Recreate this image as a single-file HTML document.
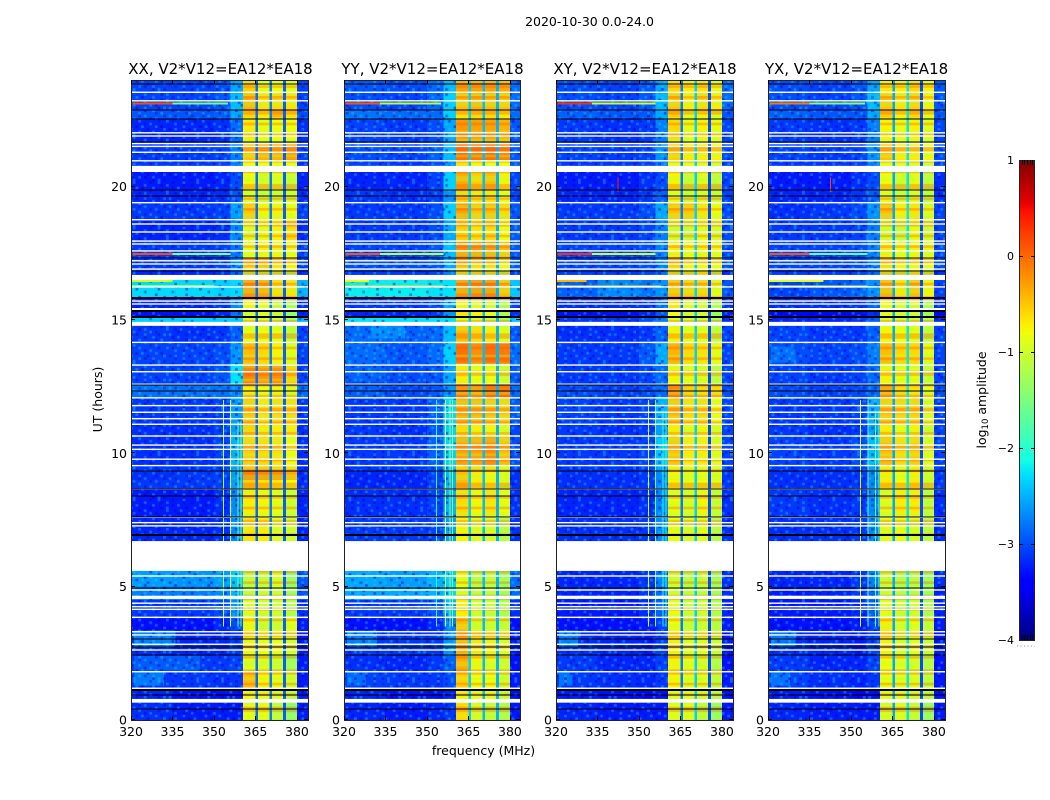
<!DOCTYPE html>
<html lang="en">
<head>
<meta charset="utf-8">
<title>2020-10-30 0.0-24.0</title>
<style>
html,body{margin:0;padding:0;background:#fff;width:1050px;height:800px;overflow:hidden}
svg{display:block}
text{font-family:"DejaVu Sans","Liberation Sans",sans-serif;fill:#000}
</style>
</head>
<body>
<svg id="figure" xmlns="http://www.w3.org/2000/svg" width="1050" height="800" viewBox="0 0 1050 800">
  <defs id="defs"></defs>
  <text x="589.5" y="26" font-size="12.5" text-anchor="middle">2020-10-30 0.0-24.0</text>
  <g id="panels"></g>
  <text x="483.5" y="755" font-size="12.5" text-anchor="middle">frequency (MHz)</text>
  <text transform="translate(102,399.5) rotate(-90)" font-size="12.5" text-anchor="middle">UT (hours)</text>
  <g id="colorbar"></g>
  <text transform="translate(986,400) rotate(-90)" font-size="12.5" text-anchor="middle">log<tspan font-size="8.5" dy="2">10</tspan><tspan dy="-2"> amplitude</tspan></text>
</svg>
<script>
// ---- chart data (hours, MHz, log10 amplitude) ----
const panelTitles = ["XX, V2*V12=EA12*EA18","YY, V2*V12=EA12*EA18","XY, V2*V12=EA12*EA18","YX, V2*V12=EA12*EA18"];
const panelNames = ["xx","yy","xy","yx"];
const xTicks = [320,335,350,365,380];
const yTicks = [0,5,10,15,20];
const cbTicks = [1,0,-1,-2,-3,-4];
const cbMinorTicks = [-3.95,-3.9,-3.85,-3.8,-3.75];
const cbMinorTicksTop = [0.95,0.9,0.85,0.8,0.75];
const rowEdges = [24,23.5,22.9,22.55,21.7,21,20.55,19.9,19.4,18.75,17.95,17.3,16.85,16.5,15.8,15.35,15.15,14.8,14.2,13.35,12.6,12.1,11.1,10.65,9.55,9.35,9,8.7,7.6,5.6,5,4.5,3.85,3.35,2.45,1.8,1.2,0.75,0];
const freqBandStarts = [320,335,350,356,360.5,366,371,376,380];
const freqBandEnds = [335,350,356,360.5,365,370,375,380,384];
const notchStarts = [365,370,375];
const xxLevels = [
[-3.05,-3.05,-3,-2.55,-.55,-.85,-.8,-.85,-3.05],
[-3.05,-3.05,-2.95,-2.45,-.4,-.65,-.6,-.65,-3.05],
[-2.95,-2.95,-2.9,-2.55,-.6,-.7,-.45,-.65,-3],
[-3.2,-3.2,-3.15,-2.85,-.7,-.85,-.8,-.8,-3.15],
[-3.1,-3.1,-3.05,-2.75,-.5,-.4,-.4,-.3,-3.05],
[-3.1,-3.1,-3.05,-2.75,-.8,-.8,-.8,-.85,-3.15],
[-3.25,-3.25,-3.2,-3,-.8,-.95,-.9,-1.05,-3.2],
[-3.2,-3.2,-3.15,-2.95,-.9,-1.05,-1,-1,-3.15],
[-3.1,-3.1,-3.05,-2.6,-.5,-.75,-.75,-.8,-3.05],
[-3.2,-3.2,-3.15,-2.7,-.9,-.85,-.75,-.6,-3.15],
[-3.1,-3.1,-3.05,-2.8,-.85,-.75,-.75,-.8,-3.05],
[-3.1,-3.1,-3.05,-2.7,-.45,-.5,-.65,-.7,-3.05],
[-3.2,-3.2,-3.15,-2.9,-1.15,-1.1,-1.1,-1.2,-3.15],
[-2.3,-2.3,-2.35,-2.3,-.25,-.3,-.6,-.65,-2.5],
[-3.2,-3.2,-3.1,-2.7,-.75,-.85,-1.05,-1.25,-3.15],
[-3.3,-3.3,-3.2,-2.8,-1,-.95,-1.05,-1.35,-3.2],
[-2.35,-2.35,-2.35,-2.35,-.95,-.9,-1,-1.3,-2.5],
[-3.1,-3.15,-3.1,-2.9,-.85,-.8,-.85,-1.1,-3.05],
[-3.05,-3.05,-3,-2.65,-.45,-.6,-.75,-.9,-3.05],
[-3.05,-3.05,-2.95,-2.25,-.15,-.25,-.2,-.55,-3.05],
[-2.9,-2.9,-2.9,-2.65,-.7,-.8,-.75,-.9,-2.85],
[-3.1,-3.1,-3.05,-2.6,-.5,-.65,-.6,-.6,-3.1],
[-3.15,-3.15,-3.05,-2.6,-.55,-.7,-.7,-.7,-3.15],
[-3.15,-3.15,-3.05,-2.5,-.55,-.6,-.65,-.8,-3.15],
[-3.1,-3.1,-3.05,-2.6,-.4,-.45,-.55,-.6,-3.15],
[-3.15,-3.1,-3.05,-2.6,-.1,-.15,-.2,-.35,-3.15],
[-3.1,-3.1,-3.05,-2.6,-.55,-.65,-.7,-.8,-3.15],
[-3.25,-3.25,-3.15,-2.7,-.7,-.75,-.85,-1,-3.2],
[-3.2,-3.2,-3.15,-2.7,-.65,-.7,-.9,-1,-3.2],
[-2.6,-2.65,-2.6,-2.4,-1.1,-1.05,-.95,-1.35,-2.95],
[-2.75,-2.75,-2.7,-2.5,-1.1,-1.05,-1,-1.3,-2.95],
[-3.1,-3.1,-3,-2.7,-.9,-1,-1,-1.2,-3.15],
[-3.3,-3.3,-3.2,-3,-.75,-1,-1,-.85,-3.25],
[-3.15,-3.2,-3.2,-3.1,-.75,-.8,-.8,-.95,-3.25],
[-3.1,-3.1,-3.1,-3.05,-.9,-.9,-1,-1.3,-3.25],
[-3.1,-3.1,-3.15,-3.1,-.45,-.75,-.85,-1,-3.25],
[-3.2,-3.3,-3.3,-3.3,-.8,-.8,-.9,-1.1,-3.25],
[-3.15,-3.25,-3.25,-3.25,-.85,-.85,-1.1,-1.4,-3.25]
];
const yyLevels = [
[-2.95,-3,-2.85,-2.45,-.3,-.3,-.3,-.35,-2.85],
[-3,-3.05,-2.85,-2.35,-.45,-.4,-.45,-.5,-2.85],
[-2.8,-2.85,-2.85,-2.35,-.65,-.6,-.6,-.7,-2.85],
[-3.05,-3.1,-3,-2.55,-.25,-.3,-.3,-.4,-2.95],
[-3,-3.05,-2.9,-2.45,-.05,-.1,-.05,-.15,-2.95],
[-3.05,-3.1,-3,-2.65,-.65,-.75,-.8,-.8,-2.95],
[-3.2,-3.2,-3.05,-2.35,-.35,-.55,-.45,-.75,-3.05],
[-3.1,-3.15,-3.05,-2.65,-.55,-.65,-.65,-.8,-3.05],
[-3.1,-3.1,-3,-2.35,-.3,-.5,-.45,-.6,-2.95],
[-3.1,-3.1,-3,-2.55,-.55,-.65,-.6,-.8,-2.95],
[-3.05,-3.05,-2.95,-2.45,-.2,-.25,-.3,-.45,-2.95],
[-3,-3,-2.95,-2.55,-.45,-.6,-.6,-.8,-2.95],
[-3.1,-3.1,-3.05,-2.75,-1,-1,-1,-1.1,-3.1],
[-2.2,-2.2,-2.25,-2.25,-.2,-.15,-.15,-.45,-2.4],
[-3.1,-3.1,-3,-2.55,-.75,-.85,-.95,-1.2,-3.05],
[-3.2,-3.2,-3.1,-2.65,-.65,-.75,-.85,-1.2,-3.15],
[-2.25,-2.25,-2.25,-2.25,-.85,-.9,-1,-1.3,-2.4],
[-2.85,-2.9,-2.85,-2.45,-.45,-.6,-.7,-.9,-2.95],
[-2.85,-2.95,-2.85,-2.35,-.05,-.2,-.05,-.1,-2.85],
[-3,-3,-2.95,-2.55,-.7,-.8,-.8,-1,-2.95],
[-2.9,-3,-2.95,-2.65,-.2,-.3,-.1,-.1,-2.85],
[-3.1,-3.1,-2.9,-2.3,-.35,-.4,-.45,-.55,-2.95],
[-3.1,-3.15,-2.95,-2.35,-.6,-.7,-.75,-.9,-3.05],
[-3.1,-3.1,-2.9,-2.35,-.3,-.3,-.2,-.45,-3],
[-3.1,-3.1,-2.95,-2.4,-.5,-.6,-.6,-.9,-3.05],
[-3.2,-3.2,-3.05,-2.5,-.45,-.7,-.75,-.9,-3.15],
[-3.2,-3.2,-3.05,-2.5,-.45,-.7,-.75,-.95,-3.15],
[-3.15,-3.15,-3.05,-2.5,-.6,-.75,-.65,-.85,-3.15],
[-3.1,-3.1,-3.05,-2.6,-.75,-.9,-.95,-1.15,-3.15],
[-2.55,-2.6,-2.5,-2.35,-.85,-1.15,-1.1,-1.3,-2.85],
[-2.55,-2.55,-2.5,-2.3,-.95,-1.1,-1.1,-1.3,-2.85],
[-3.1,-3.1,-2.95,-2.45,-.7,-1,-1.05,-1.2,-3.15],
[-3.3,-3.3,-3.2,-2.75,-.45,-.95,-1,-1.05,-3.3],
[-3.1,-3.1,-3.1,-2.65,-.35,-.65,-.7,-.9,-3.25],
[-3.15,-3.2,-3.1,-2.9,-.35,-.75,-.9,-1,-3.3],
[-3.05,-3.1,-3.1,-3,-.55,-.8,-.8,-1,-3.25],
[-3.2,-3.3,-3.3,-3.2,-.75,-.8,-.85,-1.05,-3.3],
[-3.2,-3.25,-3.2,-3.1,-.6,-.95,-1.05,-1.2,-3.25]
];
const xyLevels = [
[-3,-3.05,-2.95,-2.55,-.6,-.7,-.65,-.85,-2.85],
[-3,-3.05,-2.95,-2.45,-.5,-.7,-.6,-.7,-2.85],
[-2.9,-2.95,-2.95,-2.55,-.55,-.9,-.75,-.9,-2.95],
[-3.1,-3.15,-3.1,-2.75,-.6,-.85,-.75,-.85,-3.05],
[-3.05,-3.1,-3.05,-2.65,-.55,-.7,-.7,-.75,-3],
[-3.1,-3.1,-3.05,-2.75,-.85,-.9,-.9,-1,-3.05],
[-3.25,-3.25,-3.15,-3,-.75,-1.05,-.9,-1.1,-3.05],
[-3.2,-3.2,-3.1,-2.9,-.85,-1.05,-.9,-1.05,-3.05],
[-3.1,-3.1,-3,-2.55,-.5,-.5,-.65,-.8,-3],
[-3.1,-3.1,-3.05,-2.75,-1,-1.05,-.85,-.95,-3],
[-3.05,-3.05,-3,-2.75,-.7,-.8,-.75,-.8,-3],
[-3.05,-3.05,-3,-2.75,-.55,-.75,-.75,-.8,-3],
[-3.1,-3.1,-3.05,-2.85,-1.05,-1.05,-.8,-1.2,-3.15],
[-2.9,-2.7,-2.8,-2.65,-.45,-.55,-.55,-.85,-2.95],
[-3.15,-3.15,-3.1,-2.85,-.65,-.9,-.95,-1.2,-3.15],
[-3.3,-3.3,-3.2,-2.95,-.8,-1,-1,-1.3,-3.25],
[-3.1,-3.1,-3,-2.75,-.85,-.95,-1,-1.3,-3.15],
[-3.15,-3.15,-3.1,-2.9,-.75,-.85,-.85,-1.1,-3.05],
[-3.1,-3.1,-2.95,-2.55,-.4,-.6,-.65,-.85,-3.05],
[-3.1,-3.1,-3.05,-2.85,-.75,-.85,-.9,-1.1,-3.05],
[-3,-3.05,-3,-2.85,-.2,-.55,-.6,-.6,-3],
[-3.05,-3.1,-3.05,-2.5,-.45,-.6,-.6,-.8,-3.05],
[-3.1,-3.15,-3.1,-2.6,-.7,-.9,-.75,-.95,-3.05],
[-3.1,-3.1,-3.05,-2.4,-.5,-.7,-.7,-.9,-3.05],
[-3.1,-3.1,-3.05,-2.6,-.7,-.8,-.8,-.9,-3.05],
[-3.15,-3.15,-3.1,-2.7,-.75,-.85,-.8,-.9,-3.1],
[-3.15,-3.15,-3.1,-2.7,-.75,-.85,-.8,-.9,-3.1],
[-3.2,-3.2,-3.15,-2.7,-.85,-.95,-.75,-1.05,-3.15],
[-3.15,-3.15,-3.1,-2.7,-.85,-.95,-.85,-1.15,-3.15],
[-3.2,-3.2,-3.1,-2.75,-1,-1.15,-1.05,-1.3,-3.15],
[-3.2,-3.2,-3.1,-2.85,-1,-1.1,-1.1,-1.3,-3.15],
[-3.25,-3.25,-3.15,-2.9,-.85,-1.05,-1,-1.2,-3.2],
[-3.3,-3.3,-3.25,-3.05,-.8,-1.05,-1,-1.15,-3.25],
[-3.15,-3.2,-3.25,-3.05,-.7,-.9,-.85,-1.05,-3.25],
[-3.1,-3.2,-3.2,-3.05,-.75,-.85,-.95,-1.2,-3.3],
[-3.1,-3.15,-3.2,-3.1,-.75,-.9,-.9,-1.1,-3.25],
[-3.25,-3.3,-3.35,-3.3,-.85,-.85,-.95,-1.15,-3.3],
[-3.2,-3.25,-3.25,-3.25,-.9,-.9,-1.1,-1.35,-3.25]
];
const yxLevels = [
[-3,-3.05,-2.95,-2.55,-.7,-.7,-.6,-.75,-2.95],
[-3,-3.05,-2.95,-2.45,-.5,-.65,-.55,-.75,-2.95],
[-2.9,-2.95,-2.95,-2.55,-.55,-.75,-.6,-.85,-2.95],
[-3.1,-3.15,-3.1,-2.75,-.75,-.85,-.75,-.9,-3.05],
[-3.05,-3.1,-3.05,-2.65,-.5,-.7,-.7,-.8,-3],
[-3.1,-3.1,-3.05,-2.75,-.85,-.9,-.9,-1,-3.05],
[-3.25,-3.25,-3.15,-3,-.8,-1,-.85,-1.1,-3.15],
[-3.2,-3.2,-3.1,-2.9,-.85,-1.05,-.9,-1.1,-3.15],
[-3.15,-3.1,-3,-2.65,-.45,-.7,-.65,-.9,-3.05],
[-3.1,-3.1,-3.05,-2.75,-1,-1.05,-.85,-1,-3.05],
[-3.05,-3.05,-3,-2.75,-.7,-.8,-.75,-.85,-3],
[-3.05,-3.05,-3,-2.75,-.6,-.75,-.75,-.85,-3],
[-3.1,-3.1,-3.05,-2.85,-1.05,-1.05,-.85,-1.2,-3.15],
[-3.05,-2.95,-2.85,-2.65,-.4,-.65,-.45,-.75,-3.05],
[-3.15,-3.15,-3.1,-2.9,-.8,-.95,-.95,-1.2,-3.15],
[-3.35,-3.35,-3.3,-3.15,-.9,-1,-1,-1.25,-3.35],
[-3.2,-3.2,-3.1,-2.9,-.9,-.95,-1,-1.2,-3.15],
[-3.05,-3.1,-3.1,-2.9,-.75,-.8,-.85,-1.1,-3.05],
[-3,-3.05,-3,-2.75,-.45,-.6,-.6,-.9,-3.05],
[-3.05,-3.1,-3.05,-2.85,-.75,-.85,-.85,-1.05,-3.05],
[-3,-3.05,-3,-2.85,-.35,-.6,-.65,-.85,-3],
[-3.1,-3.1,-3.05,-2.5,-.5,-.55,-.55,-.9,-3.05],
[-3.1,-3.15,-3.1,-2.6,-.7,-.85,-.75,-1,-3.05],
[-3.05,-3.1,-3,-2.45,-.45,-.6,-.55,-.9,-3.05],
[-3.1,-3.1,-3.05,-2.6,-.7,-.8,-.7,-1,-3.05],
[-3.15,-3.15,-3.1,-2.7,-.7,-.8,-.7,-1,-3.1],
[-3.15,-3.15,-3.1,-2.7,-.7,-.8,-.7,-1,-3.1],
[-3.1,-3.15,-3.1,-2.7,-.9,-.7,-.7,-1.1,-3.15],
[-3.15,-3.15,-3.1,-2.7,-.9,-.85,-.95,-1.1,-3.15],
[-3.2,-3.2,-3.1,-2.75,-1.05,-1.2,-1.15,-1.3,-3.15],
[-3.25,-3.2,-3.1,-2.85,-1.05,-1.15,-1.15,-1.3,-3.2],
[-3.25,-3.25,-3.15,-2.9,-.9,-1.05,-1,-1.2,-3.2],
[-3.3,-3.3,-3.25,-3.05,-.7,-.95,-.85,-1.05,-3.25],
[-3.15,-3.2,-3.25,-3.05,-.7,-.95,-.85,-1.05,-3.25],
[-3.1,-3.2,-3.2,-3.05,-.8,-.9,-.95,-1.15,-3.3],
[-3.05,-3.15,-3.2,-3.1,-.85,-.9,-.9,-1.1,-3.25],
[-3.25,-3.3,-3.35,-3.3,-.85,-.85,-.95,-1.15,-3.3],
[-3.2,-3.25,-3.25,-3.25,-.95,-.9,-1.05,-1.35,-3.25]
];
const panelLevels = [xxLevels,yyLevels,xyLevels,yxLevels];
const notchLevels = [[-2.85,-2.75,-2.9],[-2.35,-2.45,-2.5],[-2.75,-2.35,-3],[-2.55,-2.25,-3]];
// bright low-frequency patches: start MHz, end MHz, top hour, bottom hour, level
const xxPatches = [[321,336,3.35,2.75,-2.45],[321,332,1.8,1.3,-2.55],[321,345,2.4,1.85,-2.8],[320,360,12.6,12.1,-2.75]];
const yyPatches = [[321,332,3.35,2.75,-2.5],[321,328,1.8,1.3,-2.7],[330,342,14.8,14.3,-2.55],[320,335,13.3,12.7,-2.8]];
const xyPatches = [[321,328,3.35,2.75,-2.45],[321,326,1.8,1.3,-2.6]];
const yxPatches = [[321,330,3.35,2.75,-2.55],[321,328,1.8,1.3,-2.65],[321,330,14,13.4,-2.7]];
const panelPatches = [xxPatches,yyPatches,xyPatches,yxPatches];
// horizontal interference: hour, start MHz, end MHz, level
const xxStreaks = [[23.11,320.5,335,0.15],[23.11,335,355,-1.5],[17.47,320.5,335,0.15],[17.47,335,356,-1.4],[16.47,320,335,-1],[16.27,320,350,-1.4]];
const yyStreaks = [[23.11,320.5,333,0.1],[23.11,333,355,-1.1],[17.47,320.5,333,0.1],[17.47,333,356,-1.1],[16.47,320,329,-.8],[16.25,320,356,-.7]];
const xyStreaks = [[23.11,320.5,333,0.3],[23.11,333,356,-1],[17.47,320.5,333,0.3],[17.47,333,356,-1],[16.47,320,331,-.4],[16.25,320,358,-.7]];
const yxStreaks = [[23.11,320.5,335,-0.1],[23.11,335,355,-1.4],[17.47,320.5,335,0.1],[17.47,335,356,-1.6],[16.47,320,340,-.9],[16.25,320,356,-.9]];
const panelStreaks = [xxStreaks,yyStreaks,xyStreaks,yxStreaks];
// vertical interference: MHz, start hour, end hour, level
const xxSpikes = [[353.4,3.5,12,-1.2],[355.9,3.5,12,-.95],[358.7,3.5,11.2,-1.5],[359.8,3.5,11.2,-1.6]];
const yySpikes = [[353.4,3.5,12,-2],[356.7,3.5,12,-1.1],[358.3,3.5,12,-1.2],[359.3,3.5,12,-1.5]];
const xySpikes = [[353.4,3.5,12,-.95],[355.9,3.5,12,-1.5],[358.7,3.5,11.6,-2],[359.8,3.5,11.6,-2],[342.4,19.8,20.35,0.35]];
const yxSpikes = [[353.4,3.5,12,-.95],[356.1,3.5,12,-1.6],[358.9,3.5,11.6,-1.8],[360.1,3.5,11.6,-1.6],[342.6,19.8,20.35,0.2]];
const panelSpikes = [xxSpikes,yySpikes,xySpikes,yxSpikes];
// flagged (blank) time ranges: top hour, bottom hour
const blankBands = [[20.78,20.55],[16.69,16.5],[15.45,15.34],[14.93,14.78],[6.71,5.59],[4.66,4.54],[0.79,0.65]];
const blankLines = [23.54,23.22,22.02,21.9,21.615,21.51,21.29,20.97,19.4,18.76,18.6,18.3,17.96,17.85,17.59,17.22,17.1,16.91,16.24,15.71,15.6,14.16,13.31,13.06,12.59,12.08,11.79,11.54,11.3,11.09,10.65,10.31,10.15,9.78,9.54,8.66,7.6,7.4,7.28,5.4,4.875,4.38,4.25,4.15,3.85,3.31,3.19,2.84,2.625,1.81,1.19];
const darkLines = [23.84,22.89,22.54,21.68,19.875,19.65,17.31,16.85,12.56,12.34,9.32,8.67,8.39,7.63,4.96,3.04,2.73,2.43,0.92,0.42];
const darkThickLines = [15.84,15.32,15.12,6.93,1.11];
// decorative texture tiles
const speckleTile = [
"..+.....-..+....-...+..",
"-.....+.....-.+.....-..",
"...+.-...+......-.+....",
".+......-...-.+......-.",
"....-.+.......+..-.+...",
"-.+.....+.-.......-...+",
"...-..+....-.+.+.....-.",
".+....-..+......-.+....",
"....+.....-.+........-+",
"-...-.+......-.+.-.....",
"..+.....-.+.......+...-",
".-..+......-..+.-....+.",
"+.....-.+........+..-..",
"...-.+....+.-.......+..",
".+.....-.....+.-.+....-",
"....+.-..+.......-..+..",
"-.+......-.+.-......-.."
];
const stripeTile = "r.g.r..gr.gg.r";

// ---- geometry ----
const panelLeft = [131,344,556,768];
const panelRight = [308,520,733,945];
const titleCenters = [220.5,432.5,645,856.5];
const panelTop = 80, panelHeight = 640, panelWidth = 177;
const cbLeft = 1019, cbWidth = 16, cbTop = 160, cbHeight = 480;
const NS = "http://www.w3.org/2000/svg";
const X_MIN = 320, X_MAX = 384, Y_MIN = 0, Y_MAX = 24, C_MIN = -4, C_MAX = 1;
const xScale = (p, f) => panelLeft[p] + (f - X_MIN) / (X_MAX - X_MIN) * panelWidth;
const yScale = h => panelTop + (Y_MAX - h) / (Y_MAX - Y_MIN) * panelHeight;
const cbScale = v => cbTop + (C_MAX - v) / (C_MAX - C_MIN) * cbHeight;

function interp(knots, t) {
  for (let i = 1; i < knots.length; i++) {
    if (t <= knots[i][0]) {
      const a = knots[i - 1], b = knots[i];
      return a[1] + (b[1] - a[1]) * (t - a[0]) / (b[0] - a[0]);
    }
  }
  return knots[knots.length - 1][1];
}
const jetR = [[0,0],[.35,0],[.66,1],[.89,1],[1,.5]];
const jetG = [[0,0],[.125,0],[.375,1],[.64,1],[.91,0],[1,0]];
const jetB = [[0,.5],[.11,1],[.34,1],[.65,0],[1,0]];
function jet(v) {
  const t = Math.max(0, Math.min(1, (v - C_MIN) / (C_MAX - C_MIN)));
  const c = k => Math.round(255 * interp(k, t));
  return "rgb(" + c(jetR) + "," + c(jetG) + "," + c(jetB) + ")";
}
function make(tag, parent, attrs) {
  const el = document.createElementNS(NS, tag);
  for (const k in attrs) el.setAttribute(k, attrs[k]);
  parent.appendChild(el);
  return el;
}

// ---- texture patterns ----
const defs = document.getElementById("defs");
const cellW = panelWidth / (X_MAX - X_MIN), cellH = panelHeight / 240;
const speckle = make("pattern", defs, {id:"speckle", patternUnits:"userSpaceOnUse", width:cellW*speckleTile[0].length, height:cellH*speckleTile.length});


speckleTile.forEach((row, r) => {
  row.split("").forEach((ch, c) => {
    if (ch === ".") return;
    const dot = make("rect", speckle, {x:c*cellW, y:r*cellH, width:cellW, height:cellH, fill: ch === "+" ? "#30c8ff" : "#0000b4", opacity: ch === "+" ? .38 : .45});
    
    
  });
});
const stripes = make("pattern", defs, {id:"stripes", patternUnits:"userSpaceOnUse", width:cellW, height:cellH*stripeTile.length});


stripeTile.split("").forEach((ch, r) => {
  if (ch === ".") return;
  const bar = make("rect", stripes, {x:0, y:r*cellH, width:cellW, height:cellH, fill: ch === "r" ? "#ff4a00" : "#c0ff40", opacity:.32});
  
  
});

// ---- panels ----
const panelsGroup = document.getElementById("panels");
panelTitles.forEach((title, p) => {
  const g = make("g", panelsGroup, {});
  
  
  const heat = make("g", g, {"shape-rendering":"crispEdges"});
  
  

  panelLevels[p].forEach((row, r) => {
    const yA = yScale(rowEdges[r]), yB = yScale(rowEdges[r + 1]);
    row.forEach((level, b) => {
      const xA = xScale(p, freqBandStarts[b]), xB = xScale(p, freqBandEnds[b]);
      const cell = make("rect", heat, {x:xA, y:yA, width:xB - xA, height:yB - yA, fill:jet(level)});
      
      
    });
  });

  panelPatches[p].forEach(s => {
    const patch = make("rect", heat, {x:xScale(p, s[0]), y:yScale(s[2]), width:xScale(p, s[1]) - xScale(p, s[0]), height:yScale(s[3]) - yScale(s[2]), fill:jet(s[4]), opacity:.6});
    
    
  });

  const noiseA = make("rect", heat, {x:xScale(p, 320), y:panelTop, width:xScale(p, 360.5) - xScale(p, 320), height:panelHeight, fill:"url(#speckle)"});
  
  
  const noiseB = make("rect", heat, {x:xScale(p, 380), y:panelTop, width:xScale(p, 384) - xScale(p, 380), height:panelHeight, fill:"url(#speckle)"});
  
  
  const stripeOverlay = make("rect", heat, {x:xScale(p, 360.5), y:panelTop, width:xScale(p, 380) - xScale(p, 360.5), height:panelHeight, fill:"url(#stripes)"});
  
  

  notchStarts.forEach((f, n) => {
    const xA = xScale(p, f), xB = xScale(p, f + 1);
    const notch = make("rect", heat, {x:xA, y:panelTop, width:xB - xA, height:panelHeight, fill:jet(notchLevels[p][n])});
    
    
  });

  panelStreaks[p].forEach(s => {
    const streak = make("rect", heat, {x:xScale(p, s[1]), y:yScale(s[0]) - 1, width:xScale(p, s[2]) - xScale(p, s[1]), height:2, fill:jet(s[3])});
    
    
  });
  panelSpikes[p].forEach(s => {
    const spike = make("rect", heat, {x:xScale(p, s[0]) - 0.5, y:yScale(s[2]), width:1, height:yScale(s[1]) - yScale(s[2]), fill:jet(s[3])});
    
    
  });

  blankBands.forEach(b => {
    const band = make("rect", g, {x:xScale(p, X_MIN), y:yScale(b[0]), width:panelWidth, height:yScale(b[1]) - yScale(b[0]), fill:"#fff"});
    
    
  });
  blankLines.forEach(h => {
    const line = make("rect", g, {x:xScale(p, X_MIN), y:yScale(h) - 0.7, width:panelWidth, height:1.4, fill:"#fff"});
    
    
  });
  darkLines.forEach(h => {
    const line = make("rect", g, {x:xScale(p, X_MIN), y:Math.round(yScale(h)) - 0.5, width:panelWidth, height:1, fill:"#000", "shape-rendering":"crispEdges"});
    
    
  });
  darkThickLines.forEach(h => {
    const line = make("rect", g, {x:xScale(p, X_MIN), y:Math.round(yScale(h)) - 1, width:panelWidth, height:2, fill:"#000", "shape-rendering":"crispEdges"});
    
    
  });

  const frame = make("rect", g, {x:panelLeft[p] + 0.5, y:panelTop + 0.5, width:panelRight[p] - panelLeft[p], height:panelHeight, fill:"none", stroke:"#222", "stroke-width":1});
  
  

  xTicks.forEach(t => {
    const x = Math.round(xScale(p, t)) + 0.5;
    const bottom = make("line", g, {x1:x, x2:x, y1:panelTop + panelHeight, y2:panelTop + panelHeight - 4, stroke:"#000"});
    
    
    const top = make("line", g, {x1:x, x2:x, y1:panelTop, y2:panelTop + 4, stroke:"#000"});
    
    
    const label = make("text", g, {x:xScale(p, t), y:736, "font-size":12.5, "text-anchor":"middle"});
    
    
    label.textContent = t;
  });
  yTicks.forEach(t => {
    const y = Math.round(yScale(t)) - 0.5;
    const left = make("line", g, {x1:panelLeft[p], x2:panelLeft[p] + 4, y1:y, y2:y, stroke:"#000"});
    
    
    const right = make("line", g, {x1:panelRight[p], x2:panelRight[p] - 4, y1:y, y2:y, stroke:"#000"});
    
    
    const label = make("text", g, {x:panelLeft[p] - 4, y:yScale(t) + 4.5, "font-size":12.5, "text-anchor":"end"});
    
    
    label.textContent = t;
  });

  const titleEl = make("text", g, {x:titleCenters[p], y:74, "font-size":15, "text-anchor":"middle"});
  
  
  titleEl.textContent = title;
});

// ---- colorbar ----
const cb = document.getElementById("colorbar");
const ramp = make("g", cb, {"shape-rendering":"crispEdges"});


for (let i = 0; i < 240; i++) {
  const v = C_MAX - (i + 0.5) / 240 * (C_MAX - C_MIN);
  const seg = make("rect", ramp, {x:cbLeft, y:cbTop + i * cbHeight / 240, width:cbWidth, height:cbHeight / 240 + 0.5, fill:jet(v)});
  
  
}
const cbFrame = make("rect", cb, {x:cbLeft + 0.5, y:cbTop + 0.5, width:cbWidth - 1, height:cbHeight, fill:"none", stroke:"#222"});


cbTicks.forEach(t => {
  const y = Math.round(cbScale(t)) + 0.5;
  if (t > C_MIN && t < C_MAX) {
    const l = make("line", cb, {x1:cbLeft, x2:cbLeft + 4, y1:y, y2:y, stroke:"#000"});
    
    
    const r = make("line", cb, {x1:cbLeft + cbWidth, x2:cbLeft + cbWidth - 4, y1:y, y2:y, stroke:"#000"});
    
    
  }
  const label = make("text", cb, {x:1014, y:cbScale(t) + 4, "font-size":11, "text-anchor":"end"});
  
  
  label.textContent = String(t).replace("-", "\u2212");
});
[cbMinorTicks, cbMinorTicksTop].forEach((set, s) => {
  set.forEach((_, i) => {
    const x = Math.round(cbLeft + (i + 1) * cbWidth / 6) + 0.5;
    const minor = make("line", cb, {x1:x, x2:x, y1: s ? cbTop : cbTop + cbHeight, y2: s ? cbTop + 5 : cbTop + cbHeight - 5, stroke:"#000"});
    
    
  });
});
const dots = make("line", cb, {x1:1017, x2:1035, y1:646, y2:646, stroke:"#999", "stroke-dasharray":"1 2.5"});


</script>
</body>
</html>
